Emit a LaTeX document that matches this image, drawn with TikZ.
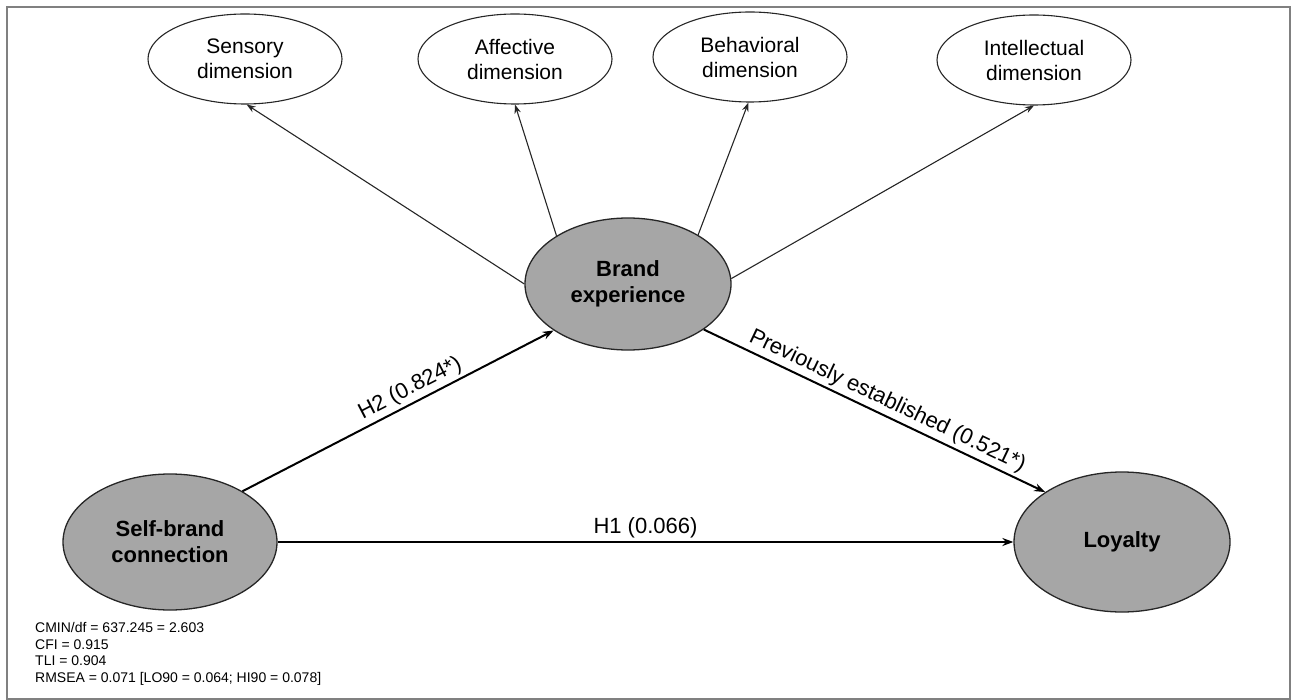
\documentclass[tikz,border=0pt]{standalone}
\usepackage{fontspec}
\setmainfont{Liberation Sans}
\usetikzlibrary{arrows.meta,shapes.geometric}
\definecolor{nodegray}{HTML}{A6A6A6}
\definecolor{framegray}{HTML}{808080}
\definecolor{linedark}{HTML}{262626}
\begin{document}
\begin{tikzpicture}[x=1pt,y=-1pt,
  dim/.style={ellipse, draw=linedark, line width=1.1pt, fill=white,
    minimum width=194pt, minimum height=90pt, inner sep=0pt, align=center,
    font=\fontsize{21}{25}\selectfont},
  lat/.style={ellipse, draw=linedark, line width=1.3pt, fill=nodegray,
    inner sep=0pt, align=center, font=\fontsize{22}{26}\selectfont\bfseries},
  thinarrow/.style={line width=1.1pt, draw=linedark, -{Stealth[length=9pt,width=6.5pt]}},
  patharrow/.style={line width=2pt, draw=black, -{Stealth[length=11pt,width=8pt]}},
  lbl/.style={font=\fontsize{22}{26}\selectfont, sloped, above, inner sep=3pt}
]
\useasboundingbox (0,0) rectangle (1292,700);
\draw[framegray, line width=2pt] (7,7) rectangle (1290,699);

\node[dim] (sens) at (245,59) {Sensory\\dimension};
\node[dim] (aff) at (515,59) {Affective\\dimension};
\node[dim] (beh) at (750,57) {Behavioral\\dimension};
\node[dim] (int) at (1034,60) {Intellectual\\dimension};

\node[lat, minimum width=206pt, minimum height=132pt] (be) at (628,284) {Brand\\experience};
\node[lat, minimum width=214pt, minimum height=136pt] (sbc) at (170,542) {Self-brand\\connection};
\node[lat, minimum width=216pt, minimum height=140pt] (loy) at (1122,542) {Loyalty};

\draw[thinarrow] (be.180) -- (sens.272);
\draw[thinarrow] (be.146) -- (aff.270);
\draw[thinarrow] (be.35) -- (beh.268);
\draw[thinarrow] (be.3) -- (int.270);

\draw[patharrow] (sbc.35) -- node[lbl, pos=0.56] {H2 (0.824*)} (be.212);
\draw[patharrow] (be.-31) -- node[lbl, pos=0.52] {Previously established (0.521*)} (loy.147);
\draw[patharrow] (sbc.east) -- node[lbl] {H1 (0.066)} (loy.west);

\node[anchor=north west, align=left, inner sep=0pt,
  font=\fontsize{14}{16.7}\selectfont] (fit) at (35,622)
  {CMIN/df = 637.245 = 2.603\\CFI = 0.915\\TLI = 0.904\\RMSEA = 0.071 [LO90 = 0.064; HI90 = 0.078]};
\end{tikzpicture}
\end{document}
